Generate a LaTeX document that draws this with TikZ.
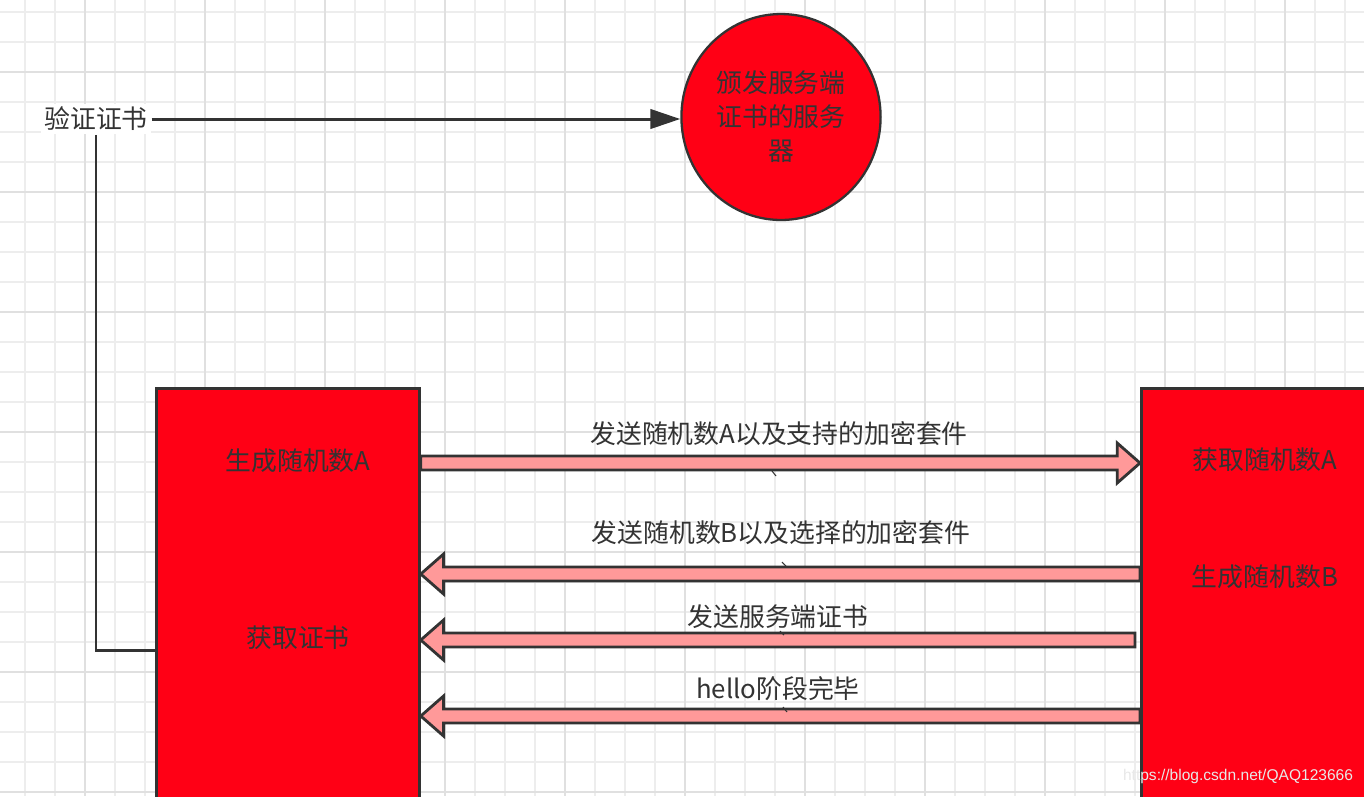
\documentclass[tikz,border=0pt]{standalone}
\usepackage{fontspec}
\setmainfont{Noto Sans CJK SC}
\newfontfamily\markfont{Liberation Sans}
\usepackage{tikz}
\usetikzlibrary{shapes.geometric}
\usetikzlibrary{arrows.meta}
\usetikzlibrary{calc}

\definecolor{partyred}{HTML}{FF0015}
\definecolor{edgegray}{HTML}{333333}
\definecolor{msgpink}{HTML}{FF9999}
\definecolor{gridminor}{HTML}{EDEDED}
\definecolor{gridmajor}{HTML}{E0E0E0}

\tikzset{
  party/.style={rectangle, draw=edgegray, line width=1.6pt, fill=partyred, anchor=north west},
  txt/.style={text=edgegray, font=\fontsize{14.7pt}{19.3pt}\selectfont},
  conn/.style={draw=edgegray, line width=1.7pt},
  fatarrow/.style={draw=edgegray, line width=1.6pt, fill=msgpink, line join=miter,
    to path={let \p1=(\tikztostart), \p2=(\tikztotarget),
      \n1={ifthenelse(\x2>\x1, \x2-13pt, \x2+13pt)} in
      (\x1,\y1+4pt) -- (\n1,\y1+4pt) -- (\n1,\y1+11.4pt) -- (\x2,\y1)
      -- (\n1,\y1-11.4pt) -- (\n1,\y1-4pt) -- (\x1,\y1-4pt) -- cycle}},
  tick/.style={draw=edgegray, line width=0.6pt}
}

\begin{document}
\begin{tikzpicture}[x=0.02cm, y=-0.02cm]
  \useasboundingbox (0,0) rectangle (1364,796);
  \clip (0,0) rectangle (1364,796);
  \fill[white] (0,0) rectangle (1364,796);

  % Grid
  \foreach \gx in {25,55,...,1364} \draw[gridminor, line width=0.8pt] (\gx,0) -- (\gx,796);
  \foreach \gy in {12,42,...,796} \draw[gridminor, line width=0.8pt] (0,\gy) -- (1364,\gy);
  \foreach \gx in {85,205,...,1364} \draw[gridmajor, line width=1pt] (\gx,0) -- (\gx,796);
  \foreach \gy in {72,192,...,796} \draw[gridmajor, line width=1pt] (0,\gy) -- (1364,\gy);

  \node[party, minimum width=5.26cm, minimum height=9cm] (client) at (155,387) {};
  \node[party, minimum width=5.6cm, minimum height=9cm] (server) at (1140,387) {};
  \node[ellipse, draw=edgegray, line width=1.3pt, fill=partyred, txt, align=center,
        minimum width=3.82cm, minimum height=4.12cm] (ca) at (781,117) {颁发服务端\\证书的服务\\器};

  \node[txt] (genA) at (298,461) {生成随机数A};
  \node[txt] (getCert) at (298,638) {获取证书};
  \node[txt] (recvA) at (1265,460) {获取随机数A};
  \node[txt] (genB) at (1265,577) {生成随机数B};
  \node[txt, fill=white, inner sep=2pt] (verify) at (96,119) {验证证书};

  % Edges
  \draw[conn, -{Triangle[length=17pt, width=11pt]}] (verify.east) -- (verify.east -| ca.west);
  \draw[conn] (verify.south) |- (client.west |- 0,650);

  % Messages
  \draw[fatarrow] (client.east |- 0,463) to (server.west |- 0,463);
  \draw[fatarrow] (server.west |- 0,574) to (client.east |- 0,574);
  \draw[fatarrow] ($(server.west |- 0,640)+(-5,0)$) to (client.east |- 0,640);
  \draw[fatarrow] (server.west |- 0,716) to (client.east |- 0,716);

  \node[txt] (m1) at (779,434) {发送随机数A以及支持的加密套件};
  \node[txt] (m2) at (781,533) {发送随机数B以及选择的加密套件};
  \node[txt] (m3) at (778,617) {发送服务端证书};
  \node[txt] (m4) at (778,689) {hello阶段完毕};

  \draw[tick] (772,471) -- (776,476);
  \draw[tick] (782,562) -- (786,566);
  \draw[tick] (780,631) -- (784,635);
  \draw[tick] (783,707) -- (787,712);

  \node[text=white!82!gray, font=\markfont\fontsize{8.85pt}{10pt}\selectfont] (mark) at (1238,776) {https://blog.csdn.net/QAQ123666};
\end{tikzpicture}
\end{document}
